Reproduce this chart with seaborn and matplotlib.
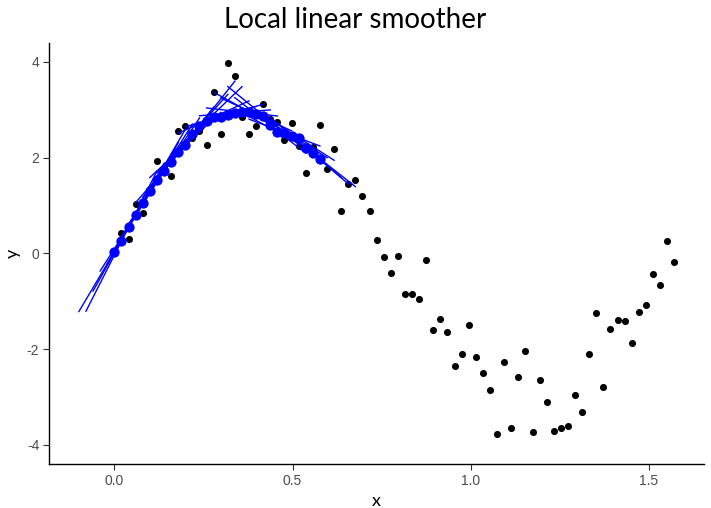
import numpy as np
import pandas as pd
import matplotlib
matplotlib.use("Agg")
import matplotlib.pyplot as plt
import seaborn as sns

# ---- data ----
x_vals = np.linspace(0.0, 1.5708, 80)
y_vals = [0.00, 0.43, 0.29, 1.04, 0.84, 1.35, 1.93, 1.70, 1.62, 2.55,
          2.65, 2.40, 2.56, 2.27, 3.38, 2.49, 3.97, 3.70, 2.85, 2.49,
          2.65, 3.12, 2.81, 2.75, 2.36, 2.73, 2.24, 1.68, 2.23, 2.69,
          1.77, 2.18, 0.88, 1.45, 1.53, 1.20, 0.88, 0.28, -0.07, -0.40,
          -0.06, -0.84, -0.84, -0.95, -0.13, -1.60, -1.37, -1.65, -2.36, -2.10,
          -1.50, -2.16, -2.50, -2.85, -3.78, -2.27, -3.64, -2.59, -2.03, -3.73,
          -2.65, -3.10, -3.72, -3.64, -3.60, -2.96, -3.31, -2.10, -1.25, -2.79,
          -1.57, -1.40, -1.42, -1.88, -1.23, -1.08, -0.43, -0.66, 0.25, -0.19]
n_fits = 30          # local fits shown (first 30 x values)
half_window = 0.1    # half width of each local window / line

title = "Local linear smoother"

df = pd.DataFrame({"x": x_vals, "y": y_vals})

# ---- local linear fits (uniform window) ----
xa = np.asarray(x_vals)
ya = np.asarray(y_vals)
fit_rows, seg_rows = [], []
for i in range(n_fits):
    x0 = xa[i]
    m = np.abs(xa - x0) <= half_window + 1e-9
    b, a = np.polyfit(xa[m] - x0, ya[m], 1)
    fit_rows.append({"x": x0, "y": a})
    for dx in (-half_window, half_window):
        seg_rows.append({"fit": i, "x": x0 + dx, "y": a + b * dx})
fits = pd.DataFrame(fit_rows)
segs = pd.DataFrame(seg_rows)

# ---- plot ----
sns.set_theme(style="white")
plt.rcParams["font.family"] = ["Liberation Sans", "DejaVu Sans"]

fig = plt.figure(figsize=(7.11, 5.08), dpi=100)
ax = fig.add_axes([49 / 711, 44 / 508, (704 - 49) / 711, (464 - 42.7) / 508])

sns.scatterplot(data=df, x="x", y="y", color="black", s=26, linewidth=0, ax=ax, zorder=3)
sns.lineplot(data=segs, x="x", y="y", units="fit", estimator=None, color="blue",
             lw=1.0, ax=ax, zorder=4, sort=False)
sns.scatterplot(data=fits, x="x", y="y", color="blue", s=55, linewidth=0, ax=ax, zorder=5)

ax.set_xlim(-0.1835, 1.6543)
ax.set_ylim(-4.40, 4.40)
ax.set_xticks([0.0, 0.5, 1.0, 1.5])
ax.set_xticklabels(["0.0", "0.5", "1.0", "1.5"])
ax.set_yticks([-4, -2, 0, 2, 4])
ax.set_yticklabels(["-4", "-2", "0", "2", "4"])

for side in ("top", "right"):
    ax.spines[side].set_visible(False)
for side in ("left", "bottom"):
    ax.spines[side].set_color("black")
    ax.spines[side].set_linewidth(1.0)
ax.tick_params(axis="both", direction="out", length=4, width=0.8, color="#333333",
               labelcolor="#4D4D4D", labelsize=10, pad=3,
               bottom=True, left=True, top=False, right=False)
ax.grid(False)

ax.set_xlabel("x", fontsize=13, color="black", family=["Lato", "DejaVu Sans"], labelpad=4)
ax.set_ylabel("y", fontsize=13, color="black", family=["Lato", "DejaVu Sans"], labelpad=4)
fig.text(0.5, 1 - 20 / 508, title, ha="center", va="center", fontsize=20,
         family=["Lato", "DejaVu Sans"], color="black")

fig.savefig("out.png", dpi=100, facecolor="white")
